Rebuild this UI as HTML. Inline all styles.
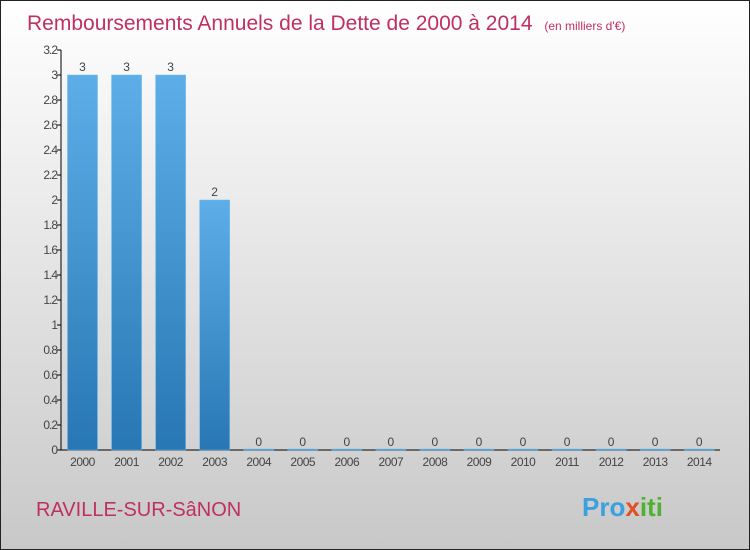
<!DOCTYPE html>
<html><head><meta charset="utf-8"><style>
body{margin:0;}
#c{width:750px;height:550px;position:relative;overflow:hidden;font-family:"Liberation Sans",sans-serif;}
</style></head><body>
<div id="c">
<svg width="750" height="550" id="svg">
<defs>
<linearGradient id="bg" x1="0" y1="0" x2="0" y2="1"><stop offset="0" stop-color="#ffffff"/><stop offset="1" stop-color="#c8c8c8"/></linearGradient>
<linearGradient id="bar" x1="0" y1="0" x2="0" y2="1"><stop offset="0" stop-color="#5daee8"/><stop offset="1" stop-color="#2877b4"/></linearGradient>
</defs>
<rect x="0.5" y="0.5" width="749" height="549" fill="url(#bg)" stroke="#222"/>
<text x="27" y="30" font-size="21" fill="#c0305e">Remboursements Annuels de la Dette de 2000 à 2014 <tspan font-size="12" dx="6">(en milliers d'€)</tspan></text>
<g id="plot"></g>
<text x="36" y="516" font-size="20" fill="#c0305e">RAVILLE-SUR-SâNON</text>
<text x="582" y="516" font-size="26" font-weight="bold"><tspan fill="#3aa0e0">Pro</tspan><tspan fill="#e05020">x</tspan><tspan fill="#50b030">iti</tspan></text>
</svg>
</div>
<script>
const categories=["2000","2001","2002","2003","2004","2005","2006","2007","2008","2009","2010","2011","2012","2013","2014"];
const values=[3,3,3,2,0,0,0,0,0,0,0,0,0,0,0];
const yTicks=[0,0.2,0.4,0.6,0.8,1,1.2,1.4,1.6,1.8,2,2.2,2.4,2.6,2.8,3,3.2];
const ns="http://www.w3.org/2000/svg";
const g=document.getElementById('plot');
const y0=450,yTop=50,yMax=3.2,axX=61;
const yS=v=>y0-(v/yMax)*(y0-yTop);
const xC=i=>82.5+i*44.05;
function mk(t,a,txt){const e=document.createElementNS(ns,t);for(const k in a)e.setAttribute(k,a[k]);if(txt!=null)e.textContent=txt;g.appendChild(e);return e;}
let e=mk('line',{x1:axX,y1:yTop,x2:axX,y2:y0,stroke:'#000'});


e=mk('line',{x1:axX,y1:y0,x2:720,y2:y0,stroke:'#000'});


yTicks.forEach(v=>{
 const y=yS(v);
 let t=mk('line',{x1:axX-4,y1:y,x2:axX,y2:y,stroke:'#000'});
 
 
 let l=mk('text',{x:axX-4,y:y+4,'font-size':12,fill:'#444','text-anchor':'end','letter-spacing':'-1'},String(+v.toFixed(1)));
 
 
});
categories.forEach((c,i)=>{
 const x=xC(i),v=values[i],w=30;
 const top=yS(v);
 let b=mk('rect',{x:x-w/2,y:top-(v===0?1:0),width:w,height:Math.max(y0-top,1),fill:'url(#bar)',stroke:'#6cb8ee','stroke-width':0.5});
 
 
 let vl=mk('text',{x:x,y:top-4,'font-size':12,fill:'#444','text-anchor':'middle'},String(v));
 
 
 let xl=mk('text',{x:x,y:466,'font-size':12,fill:'#444','text-anchor':'middle','letter-spacing':'-0.5'},c);
 
 
});
</script>
</body></html>
